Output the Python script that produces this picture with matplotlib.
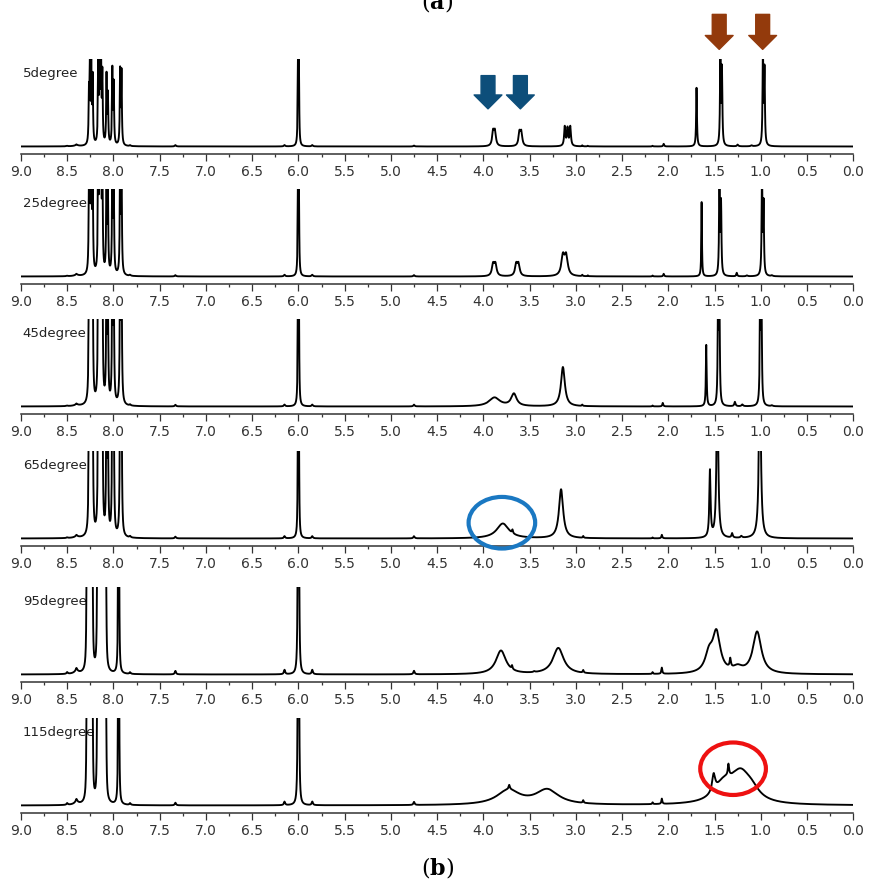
import numpy as np
import matplotlib
matplotlib.use("Agg")
import matplotlib.pyplot as plt
from matplotlib.patches import Ellipse

plt.rcParams['font.family'] = ['DejaVu Sans']
plt.rcParams['mathtext.fontset'] = 'dejavuserif'

# ------------------------
# data: peak lists (ppm, height, half-width)
# ------------------------
temps = ['5degree', '25degree', '45degree', '65degree', '95degree', '115degree']
ppm_ticks = [9.0, 8.5, 8.0, 7.5, 7.0, 6.5, 6.0, 5.5, 5.0, 4.5,
             4.0, 3.5, 3.0, 2.5, 2.0, 1.5, 1.0, 0.5, 0.0]

arom_ppm = [8.265, 8.255, 8.24, 8.225, 8.165, 8.15, 8.135, 8.12,
            8.075, 8.06, 8.012, 7.997, 7.928, 7.913]
arom_h_5 = [0.55, 0.82, 0.88, 0.74, 0.88, 1.1, 1.1, 0.77,
            0.78, 0.55, 0.85, 0.68, 0.84, 0.82]
arom_scale = [1.0, 1.6, 1.9, 2.1]

# hot spectra: aromatic lines merge into two solid blocks
block_ppm = [8.29, 8.282, 8.274, 8.266, 8.258, 8.25, 8.242, 8.234, 8.226,
             8.176, 8.168, 8.16, 8.152, 8.144, 8.136, 8.128, 8.12, 8.112,
             8.104, 8.096, 8.088, 8.08, 7.948, 7.94]
block_h = [0.9, 1.5, 1.5, 1.5, 1.5, 1.5, 1.5, 1.5, 1.0,
           0.9, 1.5, 1.5, 1.5, 1.5, 1.5, 1.5, 1.5, 1.5,
           1.5, 1.5, 1.5, 0.9, 1.5, 1.5]

minor_ppm = [8.50, 8.40, 7.82, 7.33, 6.15, 5.85, 4.75]
minor_h = [[0.005, 0.01, 0.01, 0.015, 0.015, 0.015, 0.01],
           [0.005, 0.012, 0.012, 0.015, 0.018, 0.018, 0.015],
           [0.005, 0.012, 0.012, 0.018, 0.02, 0.02, 0.02],
           [0.008, 0.015, 0.015, 0.02, 0.025, 0.025, 0.025],
           [0.02, 0.03, 0.02, 0.04, 0.05, 0.05, 0.04],
           [0.02, 0.03, 0.02, 0.03, 0.04, 0.04, 0.035]]

peaks_5 = [(6.005, 0.9, .004), (5.995, 0.9, .004),
           (3.895, 0.16, .012), (3.875, 0.16, .012),
           (3.61, 0.15, .012), (3.59, 0.15, .012),
           (3.12, 0.22, .008), (3.09, 0.2, .008), (3.06, 0.22, .008),
           (2.93, 0.012, .005), (2.87, 0.008, .005), (2.17, 0.008, .005),
           (2.05, 0.03, .006), (1.695, 0.67, .005),
           (1.437, 1.1, .005), (1.42, 0.85, .005), (1.25, 0.02, .008),
           (1.10, 0.01, .01), (0.977, 1.1, .005), (0.96, 0.85, .005)]

peaks_25 = [(6.005, 1.0, .004), (5.995, 1.0, .004),
            (3.895, 0.13, .015), (3.87, 0.13, .015),
            (3.645, 0.13, .015), (3.62, 0.13, .015),
            (3.14, 0.22, .02), (3.105, 0.22, .02),
            (2.93, 0.015, .005), (2.87, 0.01, .005), (2.17, 0.01, .005),
            (2.05, 0.03, .006), (1.64, 0.85, .004),
            (1.447, 1.2, .005), (1.43, 0.8, .005), (1.26, 0.04, .006),
            (1.15, 0.01, .01), (0.987, 1.2, .005), (0.97, 0.8, .005),
            (0.88, 0.01, .01)]

peaks_45 = [(6.005, 1.2, .004), (5.995, 1.2, .004),
            (3.88, 0.1, .07), (3.67, 0.14, .035), (3.14, 0.45, .025),
            (2.93, 0.015, .005), (2.17, 0.01, .005), (2.06, 0.04, .006),
            (1.59, 0.7, .005), (1.462, 1.3, .005), (1.448, 1.3, .005),
            (1.28, 0.05, .008), (1.20, 0.02, .01),
            (1.007, 1.3, .005), (0.993, 1.3, .005), (0.88, 0.01, .01)]

peaks_65 = [(6.005, 1.3, .004), (5.995, 1.3, .004),
            (3.79, 0.17, .08), (3.685, 0.04, .006), (3.16, 0.56, .027),
            (2.92, 0.02, .005), (2.17, 0.01, .005), (2.07, 0.04, .006),
            (1.55, 0.76, .008), (1.47, 2.0, .01), (1.31, 0.05, .008),
            (1.21, 0.02, .01), (1.01, 2.0, .012)]

peaks_95 = [(6.006, 1.5, .005), (5.994, 1.5, .005),
            (3.81, 0.27, .065), (3.69, 0.04, .006), (3.45, 0.01, .01),
            (3.19, 0.3, .07), (2.92, 0.03, .006), (2.17, 0.02, .005),
            (2.07, 0.07, .006), (1.56, 0.2, .05), (1.48, 0.45, .05),
            (1.33, 0.1, .008), (1.25, 0.06, .06), (1.04, 0.48, .055)]

peaks_115 = [(6.006, 1.5, .005), (5.994, 1.5, .005),
             (3.73, 0.165, .15), (3.72, 0.05, .008), (3.31, 0.17, .15),
             (2.92, 0.03, .006), (2.17, 0.02, .005), (2.07, 0.06, .006),
             (1.51, 0.2, .02), (1.40, 0.2, .12), (1.35, 0.13, .008),
             (1.22, 0.32, .13), (1.10, 0.1, .1)]

panel_peaks = [peaks_5, peaks_25, peaks_45, peaks_65, peaks_95, peaks_115]

# pixel layout of the reference (spine row of each panel)
spine_px = [154, 284, 414, 546, 682, 813]
W_PX, H_PX = 869, 882


def spectrum(x, peaks):
    y = np.zeros_like(x)
    for p, h, w in peaks:
        y += h * w ** 2 / ((x - p) ** 2 + w ** 2)
    return y


x = np.linspace(0, 9, 30000)
fig = plt.figure(figsize=(W_PX / 100, H_PX / 100), dpi=100)
left, right = 21 / W_PX, 853.3 / W_PX
axes = []
for i, label in enumerate(temps):
    ax = fig.add_axes([left, 1 - spine_px[i] / H_PX, right - left, 95 / H_PX])
    peaks = list(panel_peaks[i])
    if i < 4:
        wa = 0.0045 if i < 2 else 0.005
        peaks += [(p, h * arom_scale[i], wa) for p, h in zip(arom_ppm, arom_h_5)]
    else:
        peaks += [(p, h, 0.004) for p, h in zip(block_ppm, block_h)]
    peaks += [(p, h, 0.008) for p, h in zip(minor_ppm, minor_h[i])]
    peaks.append((8.40, minor_h[i][1], 0.03))
    ax.plot(x, spectrum(x, peaks), color='black', lw=1.35, zorder=3)
    ax.set_xlim(9, 0)
    ax.set_ylim(-0.086, 1.0)
    for s in ['top', 'left', 'right']:
        ax.spines[s].set_visible(False)
    ax.spines['bottom'].set_color('#333333')
    ax.spines['bottom'].set_linewidth(1.1)
    ax.set_yticks([])
    ax.set_xticks(ppm_ticks)
    ax.set_xticklabels([f"{t:.1f}" for t in ppm_ticks])
    ax.set_xticks(np.arange(0.25, 9.0, 0.5), minor=True)
    ax.tick_params(axis='x', which='major', length=5, width=0.9,
                   color='#333333', labelsize=10, labelcolor='#333333', pad=3)
    ax.tick_params(axis='x', which='minor', length=2.5, width=0.9,
                   color='#333333')
    ax.patch.set_visible(False)
    ax.text(8.98, 0.83, label, fontsize=9.5, color='#222222',
            va='center', ha='left', zorder=1)
    axes.append(ax)

# arrows on the 5 degree spectrum
arrow_style = 'simple,head_length=0.5,head_width=1.0,tail_width=0.5'
for xp in [3.95, 3.60]:
    axes[0].annotate('', xy=(xp, 0.43), xytext=(xp, 0.81),
                     arrowprops=dict(arrowstyle=arrow_style, mutation_scale=20,
                                     color='#0d4e7a', shrinkA=0, shrinkB=0),
                     annotation_clip=False)
for xp in [1.45, 0.98]:
    axes[0].annotate('', xy=(xp, 1.11), xytext=(xp, 1.51),
                     arrowprops=dict(arrowstyle=arrow_style, mutation_scale=20,
                                     color='#933a0c', shrinkA=0, shrinkB=0),
                     annotation_clip=False)

# circles
axes[3].add_patch(Ellipse((3.80, 0.18), 0.72, 0.59, fill=False,
                          ec='#1a78c2', lw=3, clip_on=False, zorder=5))
axes[5].add_patch(Ellipse((1.30, 0.42), 0.71, 0.60, fill=False,
                          ec='#ee1111', lw=3, clip_on=False, zorder=5))

# panel letters: (a) sits at the very top edge, cut off as in the source
fig.text(437 / W_PX, 1 - 8 / H_PX, r'($\mathbf{a}$)', ha='center',
         va='baseline', fontsize=16, family='DejaVu Serif')
fig.text(438 / W_PX, 1 - 875 / H_PX, r'($\mathbf{b}$)', ha='center',
         va='baseline', fontsize=16, family='DejaVu Serif')

fig.savefig('out.png', dpi=100)
